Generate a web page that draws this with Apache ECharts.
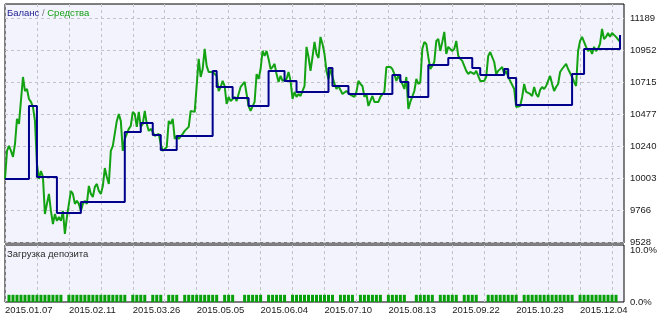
<!DOCTYPE html>
<html>
<head>
<meta charset="utf-8">
<script src="https://cdn.jsdelivr.net/npm/echarts@6/dist/echarts.min.js"></script>
<style>
html,body{margin:0;padding:0;background:#ffffff;}
#chart{width:669px;height:319px;}
</style>
</head>
<body>
<div id="chart"></div>
<script>
// ---- data ----
const dateLabels = ['2015.01.07','2015.02.11','2015.03.26','2015.05.05','2015.06.04','2015.07.10','2015.08.13','2015.09.22','2015.10.23','2015.12.04'];
const yTicks = [9528, 9766, 10003, 10240, 10477, 10715, 10952, 11189];
const loadTicks = [0, 10];

// equity (Средства), read at twice the resolution of the balance slots
const equity = [
10001,10209,10246,10209,10164,10260,10446,10409,10423,10757,
10653,10668,10594,10572,10535,10431,10112,10001,10060,10016,
9741,9816,9890,9764,9667,9741,9690,9719,9690,9764,
9593,9719,9816,9912,9890,9816,9838,9816,9764,9816,
9838,9816,9949,9890,9867,9942,9964,9912,9890,9949,
10082,10016,9964,10209,10246,10246,10431,10483,10431,10209,
10298,10312,10372,10394,10498,10483,10387,10498,10387,10409,
10505,10409,10357,10372,10349,10320,10312,10335,10260,10209,
10201,10238,10431,10409,10446,10298,10320,10298,10298,10335,
10357,10357,10387,10505,10498,10498,10505,10891,10757,10816,
10965,10839,10794,10794,10794,10802,10765,10653,10683,10728,
10690,10557,10609,10579,10594,10609,10579,10572,10683,10690,
10720,10631,10542,10505,10505,10572,10779,10742,10816,10950,
10913,10950,10891,10816,10831,10854,10779,10720,10765,10728,
10720,10742,10794,10728,10594,10646,10609,10631,10616,10616,
10690,10980,10905,10802,10905,11017,10928,10898,11054,11002,
10928,10802,10742,10816,10824,10705,10668,10690,10690,10631,
10631,10653,10646,10624,10616,10609,10646,10728,10705,10690,
10609,10631,10542,10535,10616,10572,10579,10572,10609,10609,
10646,10831,10831,10831,10816,10779,10728,10765,10757,10705,
10668,10757,10520,10572,10579,10653,10742,10705,10720,10965,
11017,11002,10905,10816,10839,10868,11024,11039,10950,11017,
11091,10928,10980,10965,10950,10965,11024,10913,10891,10876,
10876,10802,10779,10794,10802,10779,10802,10816,10728,10720,
10728,10757,10913,10942,10928,10868,10779,10802,10816,10831,
10779,10802,10757,10728,10728,10668,10535,10542,10542,10609,
10705,10646,10646,10631,10616,10683,10631,10609,10661,10683,
10668,10690,10728,10765,10705,10653,10683,10705,10794,10816,
10816,10854,10816,10802,10757,10720,10690,10950,11024,11054,
11054,10980,10950,10965,10928,10980,10950,10965,11002,11113,
11039,11054,11083,11054,11083,11076,11054,11054,11017];

// balance (Баланс), one value per trade slot
const balance = [
10001,10001,10001,10001,10001,10001,10542,10542,10016,10016,
10016,10016,10016,9749,9749,9749,9749,9749,9749,9830,
9830,9830,9830,9830,9830,9830,9830,9830,9830,9830,
10349,10349,10349,10349,10416,10416,10416,10327,10327,10216,
10216,10216,10216,10320,10320,10320,10320,10320,10320,10320,
10320,10320,10802,10683,10683,10683,10683,10601,10601,10601,
10601,10542,10542,10542,10542,10542,10802,10802,10802,10802,
10728,10728,10728,10646,10646,10646,10646,10646,10646,10646,
10646,10824,10690,10690,10690,10690,10631,10631,10631,10631,
10631,10631,10631,10631,10631,10631,10631,10772,10772,10720,
10720,10609,10609,10609,10609,10609,10846,10846,10846,10846,
10846,10898,10898,10898,10898,10898,10898,10824,10824,10772,
10772,10772,10772,10772,10772,10816,10750,10750,10550,10550,
10550,10550,10550,10550,10550,10550,10550,10550,10550,10550,
10550,10550,10779,10779,10779,10965,10965,10965,10965,10965,
10965,10965,10965,10965,11068];

// deposit load (Загрузка депозита), %, per trade slot
const depositLoad = [
0,1.4,1.4,1.4,1.4,1.4,1.4,1.4,1.4,1.4,
1.4,1.4,1.4,1.4,1.4,0,1.4,1.4,1.4,1.4,
1.4,1.4,1.4,1.4,1.4,1.4,1.4,1.4,1.4,1.4,
1.4,0,1.4,1.4,1.4,1.4,0,1.4,1.4,1.4,
0,1.4,1.4,1.4,0,1.4,1.4,1.4,1.4,1.4,
1.4,1.4,1.4,1.4,0,1.4,1.4,1.4,0,0,
1.4,1.4,1.4,1.4,1.4,0,1.4,1.4,1.4,1.4,
1.4,0,1.4,1.4,1.4,1.4,1.4,1.4,1.4,1.4,
1.4,1.4,1.4,0,1.4,1.4,1.4,1.4,0,1.4,
1.4,1.4,1.4,1.4,1.4,0,1.4,1.4,1.4,1.4,
1.4,0,0,1.4,1.4,1.4,1.4,1.4,0,1.4,
1.4,1.4,1.4,1.4,0,1.4,1.4,1.4,1.4,0,
0,1.4,1.4,1.4,1.4,1.4,1.4,1.4,1.4,0,
1.4,1.4,1.4,1.4,1.4,1.4,1.4,1.4,1.4,1.4,
1.4,1.4,1.4,0,1.4,1.4,1.4,1.4,1.4,1.4,
1.4,1.4,1.4,1.4,0];

// trade slots (plus one empty slot at the right edge)
const slots = [];
for (let i = 0; i <= balance.length; i++) slots.push(String(i + 1));
// fine slots for the equity curve (two per trade slot, same span)
const fineSlots = [];
for (let i = 0; i <= 2 * balance.length; i++) fineSlots.push(String(i + 1));

// ---- styling ----
const FONT = "'Liberation Sans', Arial, sans-serif";
const FS = 9.5;
const gridLine = { color: '#c2c2c8', type: [3, 3], width: 1 };
const plotBg = '#f3f3fd';

const xAxisBase = (idx, showLabels) => ({
  type: 'category',
  gridIndex: idx,
  data: slots,
  boundaryGap: false,
  axisLine: { show: false },
  axisTick: { show: false },
  splitLine: { show: true, interval: (i) => i % 8 === 0, lineStyle: gridLine },
  axisLabel: {
    show: showLabels,
    interval: (i) => i % 16 === 0,
    formatter: (v, i) => dateLabels[i / 16] || '',
    align: 'left',
    margin: 3,
    color: '#1a1a1a',
    fontSize: FS,
    fontFamily: FONT
  }
});

const chart = echarts.init(document.getElementById('chart'), null, { renderer: 'canvas' });
chart.setOption({
  animation: false,
  backgroundColor: '#ffffff',
  title: [
    {
      text: '{a|Баланс} {s|/} {b|Средства}',
      left: 7, top: 8, padding: 0,
      textStyle: {
        fontSize: FS, fontFamily: FONT, fontWeight: 'normal',
        rich: {
          a: { color: '#1b1b8f', fontSize: FS, fontFamily: FONT },
          s: { color: '#777777', fontSize: FS, fontFamily: FONT },
          b: { color: '#13a013', fontSize: FS, fontFamily: FONT }
        }
      }
    },
    {
      text: 'Загрузка депозита',
      left: 7, top: 249, padding: 0,
      textStyle: { fontSize: FS, fontFamily: FONT, fontWeight: 'normal', color: '#2a2a2a' }
    }
  ],
  grid: [
    { left: 5, right: 45, top: 4, height: 239, show: true, backgroundColor: plotBg, borderColor: '#000000', borderWidth: 1 },
    { left: 5, right: 45, top: 245, height: 57, show: true, backgroundColor: plotBg, borderColor: '#000000', borderWidth: 1 }
  ],
  xAxis: [
    xAxisBase(0, false),
    xAxisBase(1, true),
    {
      type: 'category', gridIndex: 0, data: fineSlots, boundaryGap: false, show: false
    }
  ],
  yAxis: [
    {
      type: 'value', gridIndex: 0, position: 'right',
      min: 9526, max: 11298,
      axisLine: { show: false },
      axisTick: { show: false, customValues: yTicks },
      splitLine: { show: true, lineStyle: gridLine },
      axisLabel: {
        customValues: yTicks,
        formatter: (v) => String(v),
        margin: 6, color: '#1a1a1a', fontSize: FS, fontFamily: FONT
      }
    },
    {
      type: 'value', gridIndex: 1, position: 'right',
      min: 0, max: 11.1,
      axisLine: { show: false },
      axisTick: { show: false, customValues: loadTicks },
      splitLine: { show: false },
      axisLabel: {
        customValues: loadTicks,
        formatter: (v) => v.toFixed(1) + '%',
        margin: 6, color: '#1a1a1a', fontSize: FS, fontFamily: FONT
      }
    }
  ],
  series: [
    {
      name: 'Средства', type: 'line', xAxisIndex: 2, yAxisIndex: 0,
      data: equity, symbol: 'none',
      lineStyle: { color: '#12a212', width: 2 }
    },
    {
      name: 'Баланс', type: 'line', xAxisIndex: 0, yAxisIndex: 0,
      data: balance, symbol: 'none', step: 'end',
      lineStyle: { color: '#00008c', width: 2 }
    },
    {
      name: 'Загрузка депозита', type: 'bar', xAxisIndex: 1, yAxisIndex: 1,
      data: depositLoad, barWidth: 3,
      itemStyle: { color: '#08a008' }
    }
  ]
});
</script>
</body>
</html>
